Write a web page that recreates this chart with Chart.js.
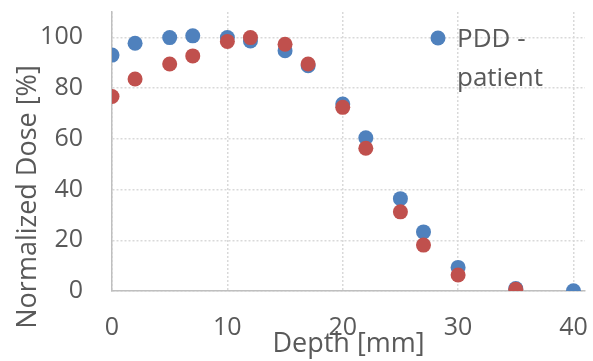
<!DOCTYPE html>
<html>
<head>
<meta charset="utf-8">
<script src="https://cdn.jsdelivr.net/npm/chart.js@4"></script>
<style>
  html, body { margin: 0; padding: 0; background: #fff; }
  #wrap { width: 593px; height: 361px; position: relative; }
</style>
</head>
<body>
<div id="wrap"><canvas id="pdd"></canvas></div>
<script>
const depth = [0, 2, 5, 7, 10, 12, 15, 17, 20, 22, 25, 27, 30, 35, 40];
const dosePatient = [93.0, 97.7, 99.9, 100.6, 99.9, 98.6, 94.7, 88.8, 73.7, 60.4, 36.4, 23.3, 9.3, 1.0, 0.1];
const depth2 = [0, 2, 5, 7, 10, 12, 15, 17, 20, 22, 25, 27, 30, 35];
const dose2 = [76.7, 83.6, 89.5, 92.7, 98.4, 99.9, 97.3, 89.5, 72.4, 56.3, 31.2, 18.1, 6.3, 0.7];
const xTicks = [0, 10, 20, 30, 40];
const yTicks = [0, 20, 40, 60, 80, 100];
const xTitle = "Depth [mm]";
const yTitle = "Normalized Dose [%]";

const blue = '#4f81bd';
const red = '#c0504d';
const textGray = '#595959';
const FONT = "'Open Sans', sans-serif";

const toPoints = (xs, ys) => xs.map((x, i) => ({ x: x, y: ys[i] }));

// y title sits lower than the plot centre, and the legend wraps, so both are drawn by hand
const extrasPlugin = {
  id: 'extras',
  afterDraw(chart) {
    const ctx = chart.ctx;
    ctx.save();
    ctx.fillStyle = textGray;
    ctx.font = "27px " + FONT;
    ctx.translate(28, 197);
    ctx.rotate(-Math.PI / 2);
    ctx.textAlign = 'center';
    ctx.textBaseline = 'middle';
    ctx.fillText(yTitle, 0, 0);
    ctx.restore();

    const ds = chart.data.datasets[0];
    ctx.save();
    ctx.fillStyle = ds.backgroundColor;
    ctx.beginPath();
    ctx.arc(438, 38, 7.5, 0, Math.PI * 2);
    ctx.fill();
    ctx.fillStyle = textGray;
    ctx.font = "26px " + FONT;
    ctx.textAlign = 'left';
    ctx.textBaseline = 'alphabetic';
    const words = ds.label.split(' ');
    const lines = [];
    let cur = '';
    words.forEach(w => {
      const t = cur ? cur + ' ' + w : w;
      if (cur && ctx.measureText(t).width > 120) { lines.push(cur); cur = w; }
      else cur = t;
    });
    lines.push(cur);
    lines.forEach((l, i) => ctx.fillText(l, 457, 47 + i * 39));
    ctx.restore();
  }
};

new Chart(document.getElementById('pdd'), {
  type: 'scatter',
  data: {
    datasets: [
      { label: 'PDD - patient', data: toPoints(depth, dosePatient), backgroundColor: blue, borderColor: blue,
        pointRadius: 7.5, pointBorderWidth: 0, pointHoverRadius: 7.5, order: 2 },
      { label: 'Series2', data: toPoints(depth2, dose2), backgroundColor: red, borderColor: red,
        pointRadius: 7.5, pointBorderWidth: 0, pointHoverRadius: 7.5, order: 1 }
    ]
  },
  options: {
    responsive: true,
    maintainAspectRatio: false,
    animation: false,
    layout: { padding: { left: 0, right: 8, top: 12, bottom: 0 } },
    plugins: { legend: { display: false }, tooltip: { enabled: false } },
    scales: {
      x: {
        type: 'linear', min: 0, max: 41,
        afterBuildTicks: s => { s.ticks = xTicks.map(v => ({ value: v })); },
        afterFit: s => { s.height = 70; s.paddingLeft = 0; s.paddingRight = 0; },
        ticks: { color: textGray, font: { family: FONT, size: 25 }, padding: 22, maxRotation: 0 },
        grid: { color: '#d9d9d9', lineWidth: 1.5, drawTicks: false },
        border: { display: true, color: '#bfbfbf', width: 1.5, dash: [2, 2] },
        title: { display: true, text: xTitle, color: textGray, font: { family: FONT, size: 27 }, padding: { top: 0, bottom: 0 } }
      },
      y: {
        type: 'linear', min: 0, max: 110,
        afterBuildTicks: s => { s.ticks = yTicks.map(v => ({ value: v })); },
        afterFit: s => { s.width = 112; s.paddingTop = 0; s.paddingBottom = 0; },
        ticks: { color: textGray, font: { family: FONT, size: 25 }, padding: 29 },
        grid: { color: '#d9d9d9', lineWidth: 1.5, drawTicks: false },
        border: { display: true, color: '#bfbfbf', width: 1.5, dash: [2, 2] }
      }
    }
  },
  plugins: [extrasPlugin]
});
</script>
</body>
</html>
